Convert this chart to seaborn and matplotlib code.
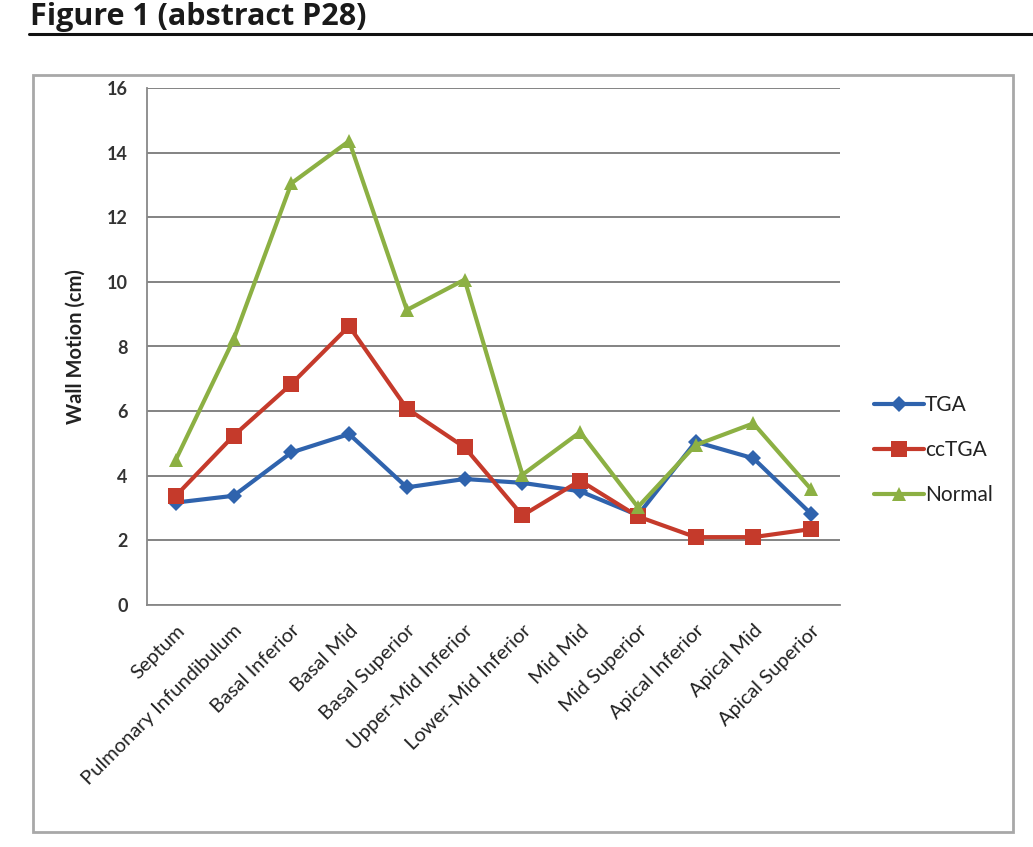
import numpy as np
import pandas as pd
import matplotlib
matplotlib.use("Agg")
import matplotlib.pyplot as plt
import seaborn as sns
from matplotlib.patches import Rectangle
from matplotlib.lines import Line2D

categories = ["Septum", "Pulmonary Infundibulum", "Basal Inferior", "Basal Mid",
              "Basal Superior", "Upper-Mid Inferior", "Lower-Mid Inferior", "Mid Mid",
              "Mid Superior", "Apical Inferior", "Apical Mid", "Apical Superior"]
tga = [3.17, 3.38, 4.72, 5.29, 3.64, 3.90, 3.78, 3.52, 2.78, 5.05, 4.54, 2.82]
cctga = [3.38, 5.24, 6.84, 8.63, 6.08, 4.88, 2.77, 3.85, 2.74, 2.10, 2.10, 2.35]
normal = [4.50, 8.22, 13.05, 14.36, 9.13, 10.07, 4.03, 5.35, 3.03, 4.95, 5.62, 3.58]
series_names = ["TGA", "ccTGA", "Normal"]
yticks = [0, 2, 4, 6, 8, 10, 12, 14, 16]

df = pd.DataFrame({
    "Segment": categories * 3,
    "Wall Motion": tga + cctga + normal,
    "Group": ["TGA"] * 12 + ["ccTGA"] * 12 + ["Normal"] * 12,
})

colors = {"TGA": "#2f63ad", "ccTGA": "#c53a2b", "Normal": "#8cb043"}
markers = {"TGA": "D", "ccTGA": "s", "Normal": "^"}
msizes = {"TGA": 8, "ccTGA": 11, "Normal": 10}

sns.set_style("white")
plt.rcParams["font.family"] = ["Lato", "DejaVu Sans"]

fig = plt.figure(figsize=(10.33, 8.47), dpi=100)
W, H = 1033, 847

# title and rule
fig.text(30 / W, 1 - 25 / H, "Figure 1 (abstract P28)", fontsize=22, fontweight="bold",
         color="#1a1a1a", va="baseline", ha="left", family=["Open Sans", "DejaVu Sans"])
fig.add_artist(Line2D([29 / W, 1.0], [1 - 34 / H, 1 - 34 / H], color="#111111", lw=2.2,
                      transform=fig.transFigure))
# chart frame
fig.add_artist(Rectangle((33 / W, 1 - 832 / H), (1013 - 33) / W, (832 - 75) / H,
                         transform=fig.transFigure, fill=False, edgecolor="#a8a8a8", lw=2))

ax = fig.add_axes([147 / W, 1 - 605 / H, 693 / W, 517 / H])

for name in series_names:
    sub = df[df["Group"] == name]
    sns.lineplot(data=sub, x="Segment", y="Wall Motion", ax=ax, color=colors[name],
                 marker=markers[name], markersize=msizes[name], linewidth=3,
                 markeredgewidth=0, label=name, sort=False)

ax.set_xlim(-0.5, len(categories) - 0.5)
ax.set_ylim(0, 16)
ax.set_yticks(yticks)
ax.set_yticklabels([str(v) for v in yticks], fontsize=13, fontweight="bold", color="#333333")
ax.set_xticks(range(len(categories)))
ax.set_xticklabels(categories, rotation=45, ha="right", rotation_mode="anchor",
                   fontsize=14.5, color="#222222")
ax.set_xticks(np.arange(-0.5, len(categories), 1.0), minor=True)
ax.tick_params(axis="x", which="major", length=0, pad=12)
ax.tick_params(axis="x", which="minor", length=6, color="#888888", width=1.2, direction="out")
ax.tick_params(axis="y", which="major", length=6, color="#888888", width=1.2, direction="out", pad=8)
ax.grid(axis="y", color="#7a7a7a", lw=1.3)
ax.set_axisbelow(True)
for s in ["top", "right"]:
    ax.spines[s].set_visible(False)
for s in ["left", "bottom"]:
    ax.spines[s].set_color("#888888")
    ax.spines[s].set_linewidth(1.3)
ax.set_xlabel("")
ax.set_ylabel("Wall Motion (cm)", fontsize=14.5, fontweight="bold", color="#222222", labelpad=15)

leg = ax.legend(loc="center left", bbox_to_anchor=(1.022, 0.30), frameon=False, fontsize=15,
                handlelength=2.4, handletextpad=0.05, labelspacing=1.2)
for t in leg.get_texts():
    t.set_color("#222222")

fig.savefig("out.png", dpi=100, facecolor="white")
